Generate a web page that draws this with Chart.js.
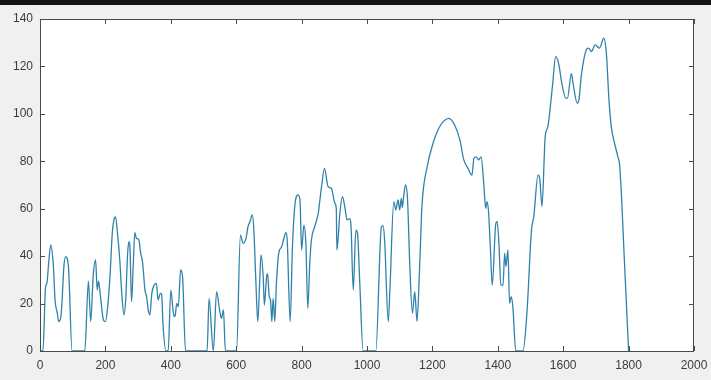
<!DOCTYPE html>
<html>
<head>
<meta charset="utf-8">
<script src="https://cdn.jsdelivr.net/npm/chart.js@4.4.0/dist/chart.umd.min.js"></script>
<style>
  html, body { margin: 0; padding: 0; background: #f0f0f0; }
  canvas { display: block; }
</style>
</head>
<body>
<canvas id="speedChart" width="711" height="380"></canvas>
<script>
// time (s) and speed readings taken off the plot
const timeSec = [
  0, 9, 17, 21, 27, 33, 41, 46, 53, 57, 64, 67, 73, 78, 87, 98,
  137, 148, 155, 163, 170, 175, 179, 185, 194, 200, 206, 214, 221, 226, 231, 237,
  244, 250, 257, 262, 268, 272, 275, 280, 285, 290, 295, 302, 308, 314, 321, 326,
  331, 336, 342, 349, 356, 361, 368, 372, 376, 385, 392, 400, 408, 413, 418, 423,
  430, 436, 445, 511, 517, 530, 540, 550, 555, 561, 567, 601, 613, 621, 630, 636,
  642, 649, 654, 660, 666, 672, 676, 683, 686, 693, 696, 701, 705, 709, 713, 718,
  723, 730, 739, 747, 752, 756, 765, 772, 779, 789, 795, 800, 807, 813, 819, 825,
  830, 840, 851, 856, 861, 870, 881, 891, 902, 906, 908, 917, 925, 932, 939, 947,
  951, 958, 966, 971, 978, 988, 1027, 1044, 1049, 1054, 1065, 1070, 1082, 1088, 1095, 1100,
  1105, 1108, 1112, 1118, 1124, 1131, 1139, 1146, 1153, 1161, 1168, 1184, 1202, 1217, 1233, 1250,
  1268, 1284, 1296, 1309, 1321, 1327, 1334, 1341, 1349, 1357, 1363, 1367, 1372, 1378, 1383, 1394,
  1398, 1404, 1409, 1416, 1421, 1425, 1431, 1436, 1441, 1446, 1455, 1477, 1489, 1503, 1510, 1523,
  1528, 1535, 1545, 1553, 1567, 1577, 1587, 1594, 1608, 1613, 1625, 1630, 1643, 1648, 1655, 1671,
  1678, 1686, 1698, 1711, 1724, 1732, 1740, 1747, 1757, 1767, 1773, 1788, 1800
];
const speed = [
  0, 0, 27, 28.5, 38, 44.7, 35.6, 21.5, 15.9, 12.4, 14.5, 20, 35.6, 39.8, 35.6, 0,
  0, 29.5, 12.4, 32.3, 38.4, 25.7, 29.5, 22.9, 13.1, 12.4, 17.3, 31.3, 49.6, 55.3, 56.6, 49.6,
  38.4, 24.3, 15.2, 21.5, 41.2, 46.1, 44, 20.8, 35.6, 49.9, 47.5, 47, 41.2, 37, 25.7, 22.9,
  17.3, 15.2, 24.3, 27.8, 28.5, 21.5, 24.3, 24, 11.7, 0, 0, 25.7, 15.9, 14.5, 20.1, 18.7,
  34.2, 31.3, 0, 0, 22.2, 0, 25, 16.6, 13.8, 17.3, 0, 0, 48.9, 45.4, 47.5, 52.4,
  54.5, 57.4, 51, 30, 12.4, 30, 40.5, 30, 19.4, 31.3, 32.6, 22.9, 21.5, 12.4, 22.2, 12.4,
  28.5, 41.2, 44, 48.2, 49.9, 46.8, 12.4, 44, 60.9, 65.8, 63.7, 42.6, 53.1, 45.4, 18, 37,
  46.8, 52.4, 58.1, 63.7, 69.3, 77, 69.3, 68.6, 62.3, 60.2, 42.6, 58.1, 65.1, 60.9, 55.3, 55.8,
  53, 25.7, 51, 49.6, 28.5, 0, 0, 52.4, 52.9, 46.6, 12.4, 25.7, 63, 59.5, 63.7, 59.5,
  64.4, 60.5, 65.1, 70, 63.7, 35.6, 15.9, 25, 12.4, 35.6, 60.9, 77.7, 87.6, 93.2, 96.7, 98.1,
  95.3, 89, 80.6, 77, 74.2, 81.3, 81.9, 80.6, 81.9, 70.7, 60.2, 63, 58.1, 41.2, 27.8, 53.8,
  54.5, 43.9, 27.8, 27.8, 41.2, 35.6, 42.6, 20.1, 22.9, 18.7, 0, 0, 15.9, 51, 56.6, 74.2,
  73, 60.9, 90.4, 94.6, 111.5, 124.1, 120.6, 114.3, 106.6, 106.6, 117.1, 113, 104.5, 105.8, 115.7, 127,
  127.7, 126.3, 129.1, 127.7, 131.9, 125.6, 105.9, 94.6, 87.6, 82, 77.7, 35.6, 0
];
const xTicks = [0, 200, 400, 600, 800, 1000, 1200, 1400, 1600, 1800, 2000];
const yTicks = [0, 20, 40, 60, 80, 100, 120, 140];

const points = timeSec.map((t, i) => ({ x: t, y: speed[i] }));

// gray figure, white axes, box and inward ticks like a matlab plot
const frame = {
  id: 'frame',
  beforeDraw(chart) {
    const c = chart.ctx;
    const a = chart.chartArea;
    c.save();
    c.fillStyle = '#f0f0f0';
    c.fillRect(0, 0, chart.width, chart.height);
    c.fillStyle = '#141414';
    c.fillRect(0, 0, chart.width, 5);
    c.fillStyle = '#ffffff';
    c.fillRect(a.left, a.top, a.right - a.left, a.bottom - a.top);
    c.restore();
  },
  afterDraw(chart) {
    const c = chart.ctx;
    const a = chart.chartArea;
    const xs = chart.scales.x;
    const ys = chart.scales.y;
    c.save();
    c.strokeStyle = '#4a4a4a';
    c.lineWidth = 1;
    c.strokeRect(a.left + 0.5, a.top + 0.5, a.right - a.left - 1, a.bottom - a.top);
    c.beginPath();
    xTicks.forEach(v => {
      const px = Math.round(xs.getPixelForValue(v)) + 0.5;
      c.moveTo(px, a.bottom); c.lineTo(px, a.bottom - 5);
      c.moveTo(px, a.top); c.lineTo(px, a.top + 5);
    });
    yTicks.forEach(v => {
      const py = Math.round(ys.getPixelForValue(v)) + 0.5;
      c.moveTo(a.left, py); c.lineTo(a.left + 5, py);
      c.moveTo(a.right, py); c.lineTo(a.right - 5, py);
    });
    c.stroke();
    c.restore();
  }
};

new Chart(document.getElementById('speedChart'), {
  type: 'line',
  data: {
    datasets: [{
      data: points,
      borderColor: '#2f82ab',
      borderWidth: 1.3,
      pointRadius: 0,
      fill: false,
      cubicInterpolationMode: 'monotone'
    }]
  },
  options: {
    responsive: false,
    animation: false,
    devicePixelRatio: 1,
    layout: { padding: { top: 19, right: 17, left: 0, bottom: 0 } },
    plugins: { legend: { display: false }, tooltip: { enabled: false } },
    scales: {
      x: {
        type: 'linear',
        min: 0,
        max: 2000,
        afterFit: s => { s.height = 29; s.paddingLeft = 0; s.paddingRight = 0; },
        afterBuildTicks: s => { s.ticks = xTicks.map(v => ({ value: v })); },
        grid: { display: false, drawTicks: false },
        border: { display: false },
        ticks: {
          padding: 7,
          maxRotation: 0,
          color: '#3c3c3c',
          callback: v => String(v),
          font: { family: 'Liberation Sans, Arial, sans-serif', size: 12 }
        }
      },
      y: {
        min: 0,
        max: 140,
        afterFit: s => { s.width = 40; s.paddingTop = 0; s.paddingBottom = 0; },
        afterBuildTicks: s => { s.ticks = yTicks.map(v => ({ value: v })); },
        grid: { display: false, drawTicks: false },
        border: { display: false },
        ticks: {
          padding: 7,
          color: '#3c3c3c',
          callback: v => String(v),
          font: { family: 'Liberation Sans, Arial, sans-serif', size: 12 }
        }
      }
    }
  },
  plugins: [frame]
});
</script>
</body>
</html>
